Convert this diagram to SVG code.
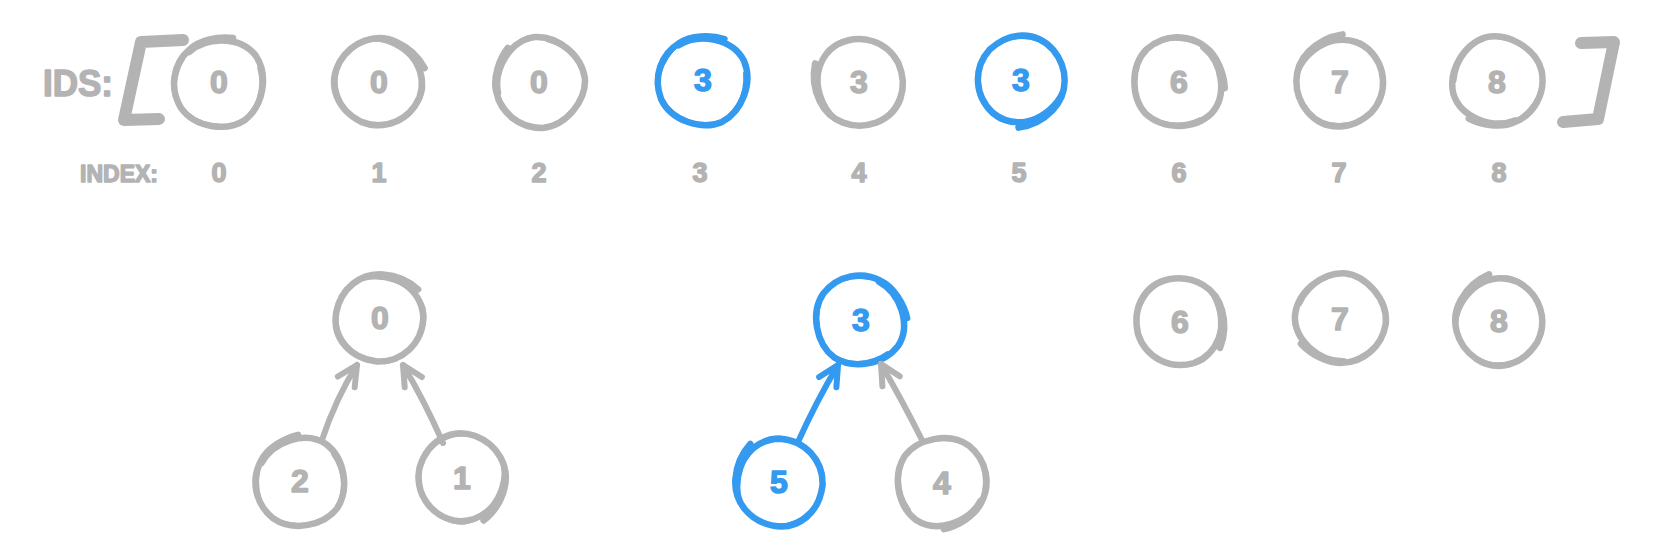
<svg xmlns="http://www.w3.org/2000/svg" xmlns:xlink="http://www.w3.org/1999/xlink" width="1662" height="544" viewBox="0 0 1662 544">
<style>
.g{stroke:#b3b3b3;fill:none}
.b{stroke:#339af0;fill:none}
.ring{stroke-width:6.5;stroke-linecap:round;stroke-linejoin:round;fill:none}
.ring2{stroke-width:3.5;stroke-linecap:round;fill:none}
.t{font-family:"Liberation Sans",Arial,sans-serif;font-weight:bold;text-anchor:middle;stroke-width:1.5;stroke-linejoin:round}
.tg{fill:#b3b3b3;stroke:#b3b3b3}
.tb{fill:#339af0;stroke:#339af0}
.d{font-size:32px}
.i{font-size:27px}
.lab{font-family:"Liberation Sans",Arial,sans-serif;font-weight:bold;fill:#b3b3b3;stroke:#b3b3b3;stroke-width:1.5;stroke-linejoin:round}
.br{stroke:#b3b3b3;stroke-width:12;stroke-linecap:round;stroke-linejoin:round;fill:none}
.arr{stroke-width:6;stroke-linecap:round;fill:none}
</style>
<defs>
<g id="sk">
<path class="ring" d="M -30,-30 C -12,-46 22,-46 37,-26 C 50,-6 44,24 26,38 C 8,50 -24,46 -38,26 C -50,6 -46,-18 -30,-32 C -20,-42 0,-46 14,-44"/>
<path class="ring2" d="M 40,-14 C 46,8 38,32 18,42 C -4,48 -32,40 -42,18 C -48,-4 -38,-32 -14,-42 C 6,-48 30,-40 40,-20"/>
</g>
<g id="sk2">
<path class="ring" d="M -20,-38 C 4,-48 32,-38 41,-14 C 48,10 36,34 12,42 C -14,48 -38,36 -43,10 C -47,-14 -34,-36 -12,-42 C 2,-46 16,-44 26,-40"/>
<path class="ring2" d="M -36,-24 C -20,-44 20,-46 38,-24 C 50,-4 42,28 20,40 C -6,50 -36,36 -42,10"/>
</g>
<marker id="ag" markerUnits="userSpaceOnUse" markerWidth="40" markerHeight="40" viewBox="-30 -20 40 40" refX="0" refY="0" orient="auto" overflow="visible">
<path d="M -20,-10 L 0,0 L -20,10" stroke="#b3b3b3" stroke-width="6" stroke-linecap="round" stroke-linejoin="round" fill="none"/>
</marker>
<marker id="ab" markerUnits="userSpaceOnUse" markerWidth="40" markerHeight="40" viewBox="-30 -20 40 40" refX="0" refY="0" orient="auto" overflow="visible">
<path d="M -20,-10 L 0,0 L -20,10" stroke="#339af0" stroke-width="6" stroke-linecap="round" stroke-linejoin="round" fill="none"/>
</marker>
</defs>
<rect x="0" y="0" width="1662" height="544" fill="#ffffff"/>

<g id="labels">
<text class="lab" x="43" y="96" font-size="37" textLength="70" lengthAdjust="spacingAndGlyphs">IDS:</text>
<text class="lab" x="80" y="182" font-size="24" textLength="78" lengthAdjust="spacingAndGlyphs">INDEX:</text>
<path class="br" d="M 183,40 L 141,42 L 124,120 L 159,119"/>
<path class="br" d="M 1581,43 L 1614,42 L 1598,119 L 1563,122"/>
</g>

<g id="ids-0"><use href="#sk" class="g" transform="translate(219,82)"/><text class="t tg d" x="219" y="93">0</text></g>
<g id="ids-1"><use href="#sk2" class="g" transform="translate(379,82) rotate(40)"/><text class="t tg d" x="379" y="93">0</text></g>
<g id="ids-2"><use href="#sk" class="g" transform="translate(539,82) rotate(-60)"/><text class="t tg d" x="539" y="93">0</text></g>
<g id="ids-3"><use href="#sk" class="b" transform="translate(703,80) rotate(10)"/><text class="t tb d" x="703" y="91">3</text></g>
<g id="ids-4"><use href="#sk2" class="g" transform="translate(859,82) rotate(-100)"/><text class="t tg d" x="859" y="93">3</text></g>
<g id="ids-5"><use href="#sk2" class="b" transform="translate(1021,80) rotate(150)"/><text class="t tb d" x="1021" y="91">3</text></g>
<g id="ids-6"><use href="#sk" class="g" transform="translate(1179,82) rotate(80)"/><text class="t tg d" x="1179" y="93">6</text></g>
<g id="ids-7"><use href="#sk2" class="g" transform="translate(1340,82) rotate(-30)"/><text class="t tg d" x="1340" y="93">7</text></g>
<g id="ids-8"><use href="#sk" class="g" transform="translate(1497,82) rotate(200)"/><text class="t tg d" x="1497" y="93">8</text></g>

<g id="index-labels">
<text class="t tg i" x="219" y="182">0</text>
<text class="t tg i" x="379" y="182">1</text>
<text class="t tg i" x="539" y="182">2</text>
<text class="t tg i" x="700" y="182">3</text>
<text class="t tg i" x="859" y="182">4</text>
<text class="t tg i" x="1019" y="182">5</text>
<text class="t tg i" x="1179" y="182">6</text>
<text class="t tg i" x="1339" y="182">7</text>
<text class="t tg i" x="1499" y="182">8</text>
</g>

<g id="tree-0"><use href="#sk2" class="g" transform="translate(380,318) rotate(20)"/><text class="t tg d" x="380" y="329">0</text></g>
<g id="tree-2"><use href="#sk" class="g" transform="translate(300,481) rotate(-20)"/><text class="t tg d" x="300" y="492">2</text></g>
<g id="tree-1"><use href="#sk2" class="g" transform="translate(462,478) rotate(120)"/><text class="t tg d" x="462" y="489">1</text></g>
<g id="tree-3"><use href="#sk" class="b" transform="translate(861,320) rotate(70)"/><text class="t tb d" x="861" y="331">3</text></g>
<g id="tree-5"><use href="#sk2" class="b" transform="translate(779,482) rotate(-70)"/><text class="t tb d" x="779" y="493">5</text></g>
<g id="tree-4"><use href="#sk" class="g" transform="translate(942,483) rotate(160)"/><text class="t tg d" x="942" y="494">4</text></g>
<g id="tree-6"><use href="#sk2" class="g" transform="translate(1180,322) rotate(90)"/><text class="t tg d" x="1180" y="333">6</text></g>
<g id="tree-7"><use href="#sk" class="g" transform="translate(1340,319) rotate(-140)"/><text class="t tg d" x="1340" y="330">7</text></g>
<g id="tree-8"><use href="#sk2" class="g" transform="translate(1499,321) rotate(-45)"/><text class="t tg d" x="1499" y="332">8</text></g>

<g id="connectors">
<path class="arr g" d="M 322,440 Q 336,398 357,365" marker-end="url(#ag)"/>
<path class="arr g" d="M 443,443 Q 424,400 403,365" marker-end="url(#ag)"/>
<path class="arr b" d="M 798,442 Q 816,402 838,365" marker-end="url(#ab)"/>
<path class="arr g" d="M 923,442 Q 902,400 881,364" marker-end="url(#ag)"/>
</g>
</svg>
